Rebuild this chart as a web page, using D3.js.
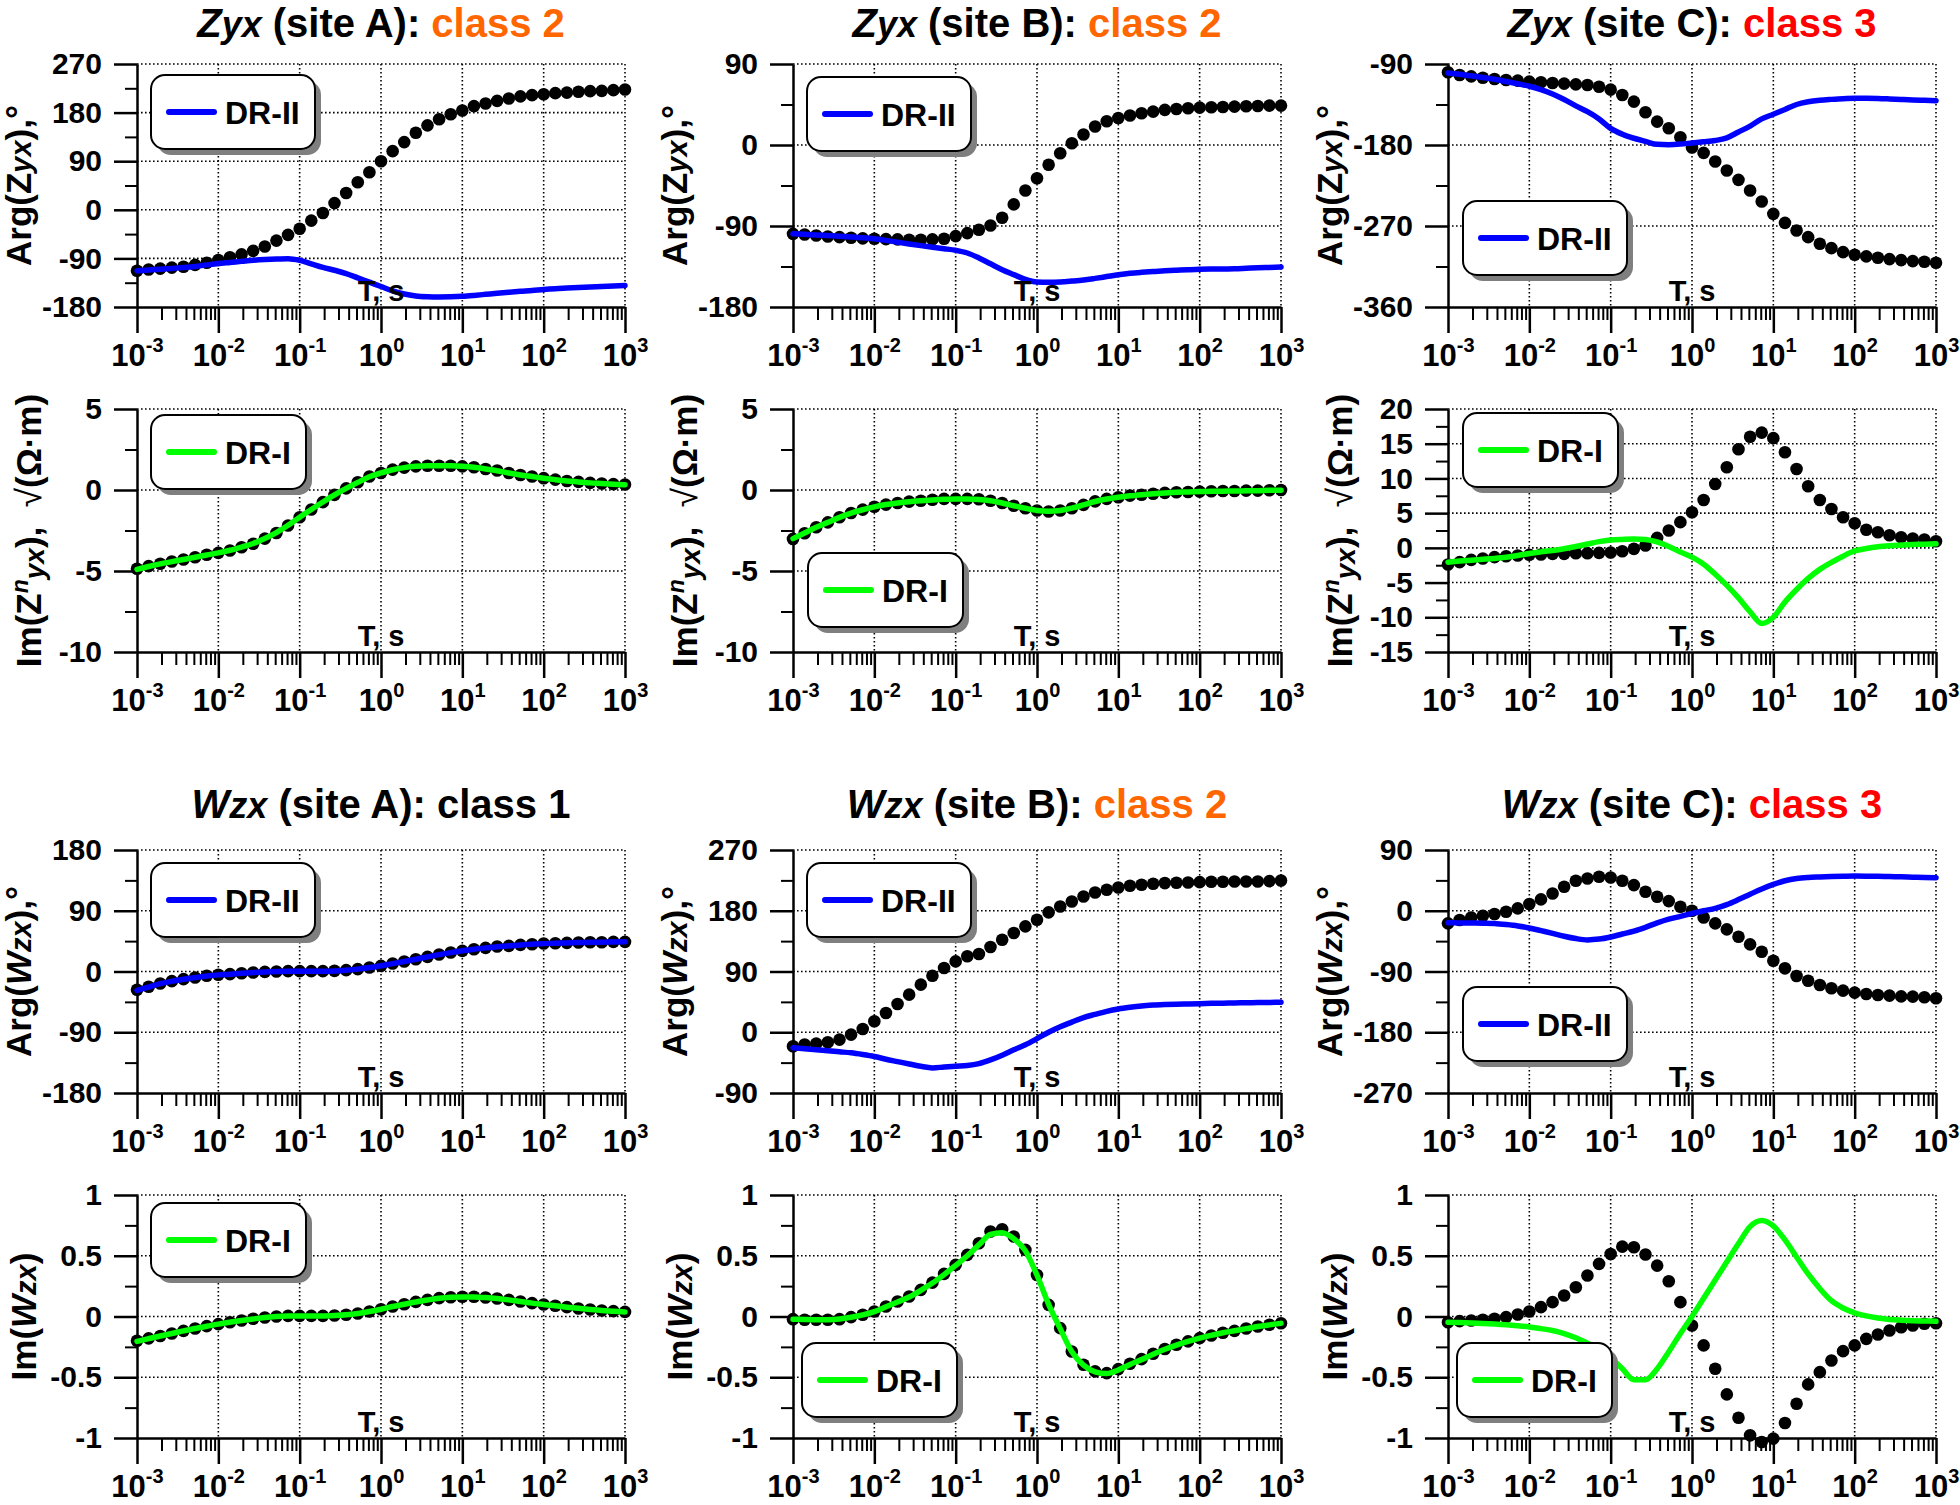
<!DOCTYPE html>
<html><head><meta charset="utf-8">
<script src="https://cdn.jsdelivr.net/npm/d3@7"></script>
<style>
body{margin:0;background:#fff}
svg text{font-family:"Liberation Sans",Arial,sans-serif;font-weight:bold;white-space:pre}
</style>
</head><body>
<svg id="c" width="1960" height="1505"></svg>
<script>
// ---------------- DATA ----------------
const periods = [0.001,0.00139,0.00193,0.00268,0.00373,0.00518,0.0072,0.01,0.0139,0.0193,0.0268,0.0373,0.0518,0.072,
  0.1,0.139,0.193,0.268,0.373,0.518,0.72,1,1.39,1.93,2.68,3.73,5.18,7.2,10,13.9,19.3,26.8,37.3,51.8,72,
  100,139,193,268,373,518,720,1000];
const xExponents = [-3,-2,-1,0,1,2,3];

const zyxA_arg_obs = [-113,-110.5,-109,-107,-105.5,-102,-98,-93,-88,-82.5,-76,-68,-57,-46.5,-35,-20,-6,12.4,31,51,69.5,90,108.6,125.4,142.8,156.4,167.6,177,184,192,196.8,201.7,206,210,212.3,214,216,217,218.5,219.7,220.3,221.6,222.8];
const zyxA_arg_dr2 = [-113,-111.5,-110,-108.5,-107,-105,-102,-99.5,-97.5,-95.5,-93.5,-92,-91,-90.5,-93.5,-100,-106.5,-112,-118,-126,-134,-142,-150,-156,-159.5,-161,-161.5,-161.2,-160.2,-158.5,-156.5,-154.5,-152.7,-151,-149.5,-147.5,-146,-145,-144,-143,-142,-141,-140];
const zyxA_im_obs = [-4.86,-4.7,-4.55,-4.41,-4.29,-4.15,-4.0,-3.88,-3.73,-3.53,-3.32,-3.0,-2.65,-2.19,-1.68,-1.2,-0.75,-0.3,0.1,0.48,0.83,1.05,1.26,1.38,1.46,1.5,1.5,1.5,1.46,1.4,1.3,1.2,1.05,0.93,0.83,0.73,0.64,0.56,0.5,0.44,0.4,0.36,0.34];
const zyxA_im_dr1 = [-4.9,-4.72,-4.56,-4.42,-4.29,-4.15,-4.01,-3.88,-3.72,-3.52,-3.3,-2.99,-2.63,-2.18,-1.68,-1.2,-0.74,-0.3,0.1,0.47,0.82,1.05,1.25,1.38,1.46,1.5,1.5,1.49,1.46,1.4,1.3,1.19,1.05,0.93,0.83,0.73,0.64,0.56,0.5,0.44,0.4,0.36,0.33];

const zyxB_arg_obs = [-98.7,-99.4,-100.5,-101.6,-102.4,-103,-103.8,-104.2,-104.6,-104.9,-105.3,-105.3,-104.9,-104.2,-101.2,-97.9,-94.2,-89.4,-80.9,-66,-50.6,-36.9,-22,-9.1,2,11.6,20.5,26.4,30,32.7,35.2,37.1,39,40,40.8,41.5,41.9,42.3,42.6,43,43.4,43.8,43.8];
const zyxB_arg_dr2 = [-98.7,-99.3,-100,-100.6,-101.3,-102.1,-103,-104.2,-106,-108,-110,-111.8,-113.5,-115.2,-117,-120,-125.5,-132,-138.5,-144,-149.3,-152.2,-152.6,-152.2,-151.2,-150,-148.2,-146.2,-144.2,-142.6,-141.5,-140.6,-139.8,-139.2,-138.6,-138.1,-137.9,-137.9,-137.6,-137,-136.4,-136,-135.6];
const zyxB_im_obs = [-3.02,-2.67,-2.3,-2.0,-1.68,-1.42,-1.21,-1.03,-0.9,-0.8,-0.72,-0.66,-0.6,-0.55,-0.55,-0.55,-0.57,-0.66,-0.8,-0.97,-1.13,-1.27,-1.33,-1.27,-1.13,-0.92,-0.7,-0.55,-0.45,-0.35,-0.29,-0.23,-0.18,-0.14,-0.12,-0.1,-0.08,-0.06,-0.06,-0.04,-0.04,-0.02,0];
const zyxB_im_dr1 = [-3.0,-2.65,-2.3,-2.0,-1.69,-1.43,-1.22,-1.04,-0.9,-0.8,-0.72,-0.66,-0.61,-0.57,-0.55,-0.55,-0.58,-0.66,-0.8,-0.97,-1.13,-1.26,-1.31,-1.26,-1.12,-0.92,-0.71,-0.56,-0.45,-0.36,-0.29,-0.23,-0.18,-0.14,-0.12,-0.1,-0.08,-0.07,-0.06,-0.05,-0.04,-0.02,-0.01];

const zyxC_arg_obs = [-99.2,-102.2,-103.7,-105.2,-106.6,-107.8,-108.5,-109.6,-110.3,-111.1,-111.8,-112.6,-113.3,-115.2,-118.5,-124.4,-131.8,-143.6,-154,-161.4,-171.4,-182.8,-188.8,-198.4,-208.4,-218.7,-230.6,-242.8,-256.5,-266.5,-275,-282.4,-289.8,-294.6,-299,-302,-303.8,-305.3,-306.8,-307.9,-309,-309.7,-310.8];
const zyxC_arg_dr2 = [-100,-101.5,-103.2,-105,-107,-109.5,-112,-114.7,-118.5,-123.3,-129.5,-136.5,-143,-151,-161.5,-168,-172.5,-176,-179.3,-179.6,-179,-177.7,-176.5,-175,-172,-165.5,-159,-151,-145.8,-140.5,-135,-132,-130.3,-129.3,-128.5,-128.1,-128.1,-128.3,-128.8,-129.4,-129.9,-130.3,-130.7];
const zyxC_im_obs = [-2.4,-2.06,-1.73,-1.53,-1.34,-1.2,-1.1,-1.0,-0.96,-0.86,-0.86,-0.77,-0.77,-0.72,-0.67,-0.48,-0.14,0.34,1.44,2.5,3.7,5.13,6.9,9.2,11.6,14.2,16.0,16.6,15.8,13.76,11.36,8.87,6.9,5.6,4.4,3.55,2.6,2.25,1.82,1.53,1.34,1.2,0.96];
const zyxC_im_dr1 = [-2.06,-1.9,-1.77,-1.65,-1.52,-1.35,-1.1,-0.8,-0.58,-0.38,-0.12,0.2,0.55,0.9,1.12,1.22,1.28,1.2,0.85,0.2,-0.6,-1.34,-2.35,-3.8,-5.4,-7.2,-9.2,-10.9,-10.0,-7.8,-6.0,-4.4,-3.1,-2.1,-1.2,-0.45,-0.1,0.15,0.3,0.4,0.48,0.53,0.58];

const wzxA_arg_obs = [-27,-22.7,-17.8,-14.3,-11.3,-8.9,-6.4,-4.9,-3.9,-2.5,-1.5,-0.5,0,0.5,0.5,0.5,0.5,1,2,3.5,5.9,8.4,11.8,14.8,18.2,21.7,25.2,28.1,30.6,33,35,37,38,39.5,40.4,41.4,41.9,42.4,42.9,43.4,43.4,43.9,43.9];
const wzxA_arg_dr2 = [-28,-23,-18,-14.5,-11.5,-9,-6.6,-5,-3.9,-2.6,-1.6,-0.6,0,0.4,0.5,0.5,0.5,0.9,2,3.5,5.8,8.4,11.7,14.8,18.2,21.6,25,28,30.6,33,35,36.8,38,39.4,40.4,41.3,41.9,42.4,42.8,43.2,43.5,43.8,44];
const wzxA_im_obs = [-0.2,-0.18,-0.16,-0.14,-0.118,-0.099,-0.079,-0.063,-0.047,-0.033,-0.019,-0.008,0,0.005,0.005,0.005,0.005,0.008,0.014,0.025,0.041,0.06,0.082,0.101,0.12,0.137,0.151,0.159,0.162,0.162,0.156,0.148,0.137,0.123,0.11,0.099,0.088,0.077,0.066,0.058,0.049,0.044,0.038];
const wzxA_im_dr1 = [-0.205,-0.182,-0.16,-0.14,-0.118,-0.099,-0.08,-0.063,-0.047,-0.033,-0.02,-0.008,0,0.004,0.005,0.005,0.005,0.008,0.014,0.025,0.041,0.06,0.082,0.101,0.12,0.136,0.15,0.158,0.161,0.161,0.156,0.148,0.137,0.123,0.11,0.099,0.088,0.077,0.067,0.058,0.05,0.044,0.038];

const wzxB_arg_obs = [-20.7,-18.2,-16.8,-14.8,-10.9,-3.5,4.9,16.3,28.6,41.9,55.7,70.5,83.8,95.2,105,112.5,115.9,126.3,137.1,147,156.8,166.7,177.6,186.4,193.8,201.2,207.1,211.1,214.5,217,218.5,220,221,221.5,221.9,222.4,222.9,222.9,223.4,223.4,223.4,223.9,224.9];
const wzxB_arg_dr2 = [-23,-24.5,-26,-27.5,-29,-30.5,-33,-36,-40,-43.5,-47,-50.5,-52.8,-51.5,-50.3,-49.3,-46.5,-41,-34,-26,-18.5,-9.5,0,8,15,21.8,26.5,31,34.5,37,39,40.2,41,41.6,42,42.4,42.8,43.1,43.4,43.7,44,44.2,44.4];
const wzxB_im_obs = [-0.022,-0.027,-0.027,-0.027,-0.022,-0.005,0.014,0.041,0.082,0.123,0.164,0.219,0.279,0.351,0.425,0.507,0.603,0.699,0.718,0.658,0.548,0.342,0.096,-0.096,-0.288,-0.397,-0.452,-0.466,-0.433,-0.389,-0.351,-0.307,-0.268,-0.233,-0.205,-0.178,-0.156,-0.134,-0.118,-0.099,-0.082,-0.068,-0.055];
const wzxB_im_dr1 = [-0.022,-0.025,-0.027,-0.026,-0.02,-0.006,0.013,0.04,0.08,0.12,0.16,0.215,0.275,0.345,0.42,0.5,0.59,0.675,0.69,0.64,0.54,0.34,0.1,-0.1,-0.29,-0.4,-0.455,-0.47,-0.44,-0.395,-0.355,-0.31,-0.27,-0.235,-0.205,-0.178,-0.155,-0.134,-0.117,-0.1,-0.083,-0.069,-0.056];

const wzxC_arg_obs = [-18.7,-13.8,-9.9,-7.4,-4.9,-1.5,3.5,9.9,16.8,25.6,35.5,44.4,47.8,50.3,49.3,44.4,38,28.1,20.7,14.3,5.9,0,-9.9,-18.7,-27.6,-38.5,-49.8,-60.7,-74,-85.3,-96.7,-103.6,-110,-114.9,-118.4,-121.3,-123.3,-124.8,-125.8,-126.8,-127.2,-128.2,-129.7];
const wzxC_arg_dr2 = [-17.8,-18,-18.2,-18.5,-19,-20.5,-22.5,-25.5,-29.5,-33.5,-37.8,-41.2,-43.2,-42,-38.8,-34.5,-30.2,-24.5,-18,-12.5,-8.3,-4,0,3.5,9,16.5,24.5,32.3,39,44.5,47.8,49.3,50,50.6,51,51.3,51.2,51,50.6,50.2,49.7,49.2,48.8];
const wzxC_im_obs = [-0.047,-0.038,-0.033,-0.027,-0.019,-0.005,0.016,0.041,0.077,0.118,0.173,0.241,0.337,0.433,0.515,0.575,0.57,0.51,0.419,0.29,0.118,-0.074,-0.238,-0.43,-0.641,-0.833,-0.978,-1.033,-1.005,-0.877,-0.718,-0.559,-0.458,-0.362,-0.285,-0.238,-0.184,-0.148,-0.115,-0.088,-0.074,-0.06,-0.055];
const wzxC_im_dr1 = [-0.047,-0.05,-0.053,-0.057,-0.062,-0.068,-0.076,-0.086,-0.1,-0.115,-0.14,-0.175,-0.22,-0.27,-0.34,-0.43,-0.52,-0.52,-0.43,-0.29,-0.14,0.0,0.15,0.3,0.45,0.6,0.74,0.79,0.745,0.63,0.49,0.35,0.23,0.13,0.07,0.03,0.005,-0.012,-0.024,-0.03,-0.034,-0.037,-0.04];

// y tick values (bottom -> top)
const yTicks_zyxA_arg = [-180,-90,0,90,180,270];
const yTicks_zyxB_arg = [-180,-90,0,90];
const yTicks_zyxC_arg = [-360,-270,-180,-90];
const yTicks_zyxAB_im = [-10,-5,0,5];
const yTicks_zyxC_im = [-15,-10,-5,0,5,10,15,20];
const yTicks_wzxA_arg = [-180,-90,0,90,180];
const yTicks_wzxB_arg = [-90,0,90,180,270];
const yTicks_wzxC_arg = [-270,-180,-90,0,90];
const yTicks_wzx_im = [-1,-0.5,0,0.5,1];

const sites = ['A','B','C'];
const zyxClasses = [2,2,3];
const wzxClasses = [1,2,3];
const legendNames = ['DR-II','DR-I'];

// ---------------- LAYOUT / STYLE ----------------
const classColor = {1:'#000000',2:'#ff6600',3:'#ff0000'};
const fitColor = {'DR-II':'#0000ff','DR-I':'#00ff00'};
const W = 488, H = 243;
const colLeft = [137, 793, 1448];
const rowTop = [64, 409, 850, 1195];
const titleGap = [27, null, 32];

const panels = [
  {row:0,col:0,obs:zyxA_arg_obs,fit:zyxA_arg_dr2,leg:legendNames[0],yt:yTicks_zyxA_arg,lab:'argZ',lp:[14,11]},
  {row:0,col:1,obs:zyxB_arg_obs,fit:zyxB_arg_dr2,leg:legendNames[0],yt:yTicks_zyxB_arg,lab:'argZ',lp:[14,13]},
  {row:0,col:2,obs:zyxC_arg_obs,fit:zyxC_arg_dr2,leg:legendNames[0],yt:yTicks_zyxC_arg,lab:'argZ',lp:[15,137]},
  {row:1,col:0,obs:zyxA_im_obs,fit:zyxA_im_dr1,leg:legendNames[1],yt:yTicks_zyxAB_im,lab:'imZ',lp:[14,6]},
  {row:1,col:1,obs:zyxB_im_obs,fit:zyxB_im_dr1,leg:legendNames[1],yt:yTicks_zyxAB_im,lab:'imZ',lp:[15,144]},
  {row:1,col:2,obs:zyxC_im_obs,fit:zyxC_im_dr1,leg:legendNames[1],yt:yTicks_zyxC_im,lab:'imZ',lp:[15,4]},
  {row:2,col:0,obs:wzxA_arg_obs,fit:wzxA_arg_dr2,leg:legendNames[0],yt:yTicks_wzxA_arg,lab:'argW',lp:[14,13]},
  {row:2,col:1,obs:wzxB_arg_obs,fit:wzxB_arg_dr2,leg:legendNames[0],yt:yTicks_wzxB_arg,lab:'argW',lp:[14,13]},
  {row:2,col:2,obs:wzxC_arg_obs,fit:wzxC_arg_dr2,leg:legendNames[0],yt:yTicks_wzxC_arg,lab:'argW',lp:[15,137]},
  {row:3,col:0,obs:wzxA_im_obs,fit:wzxA_im_dr1,leg:legendNames[1],yt:yTicks_wzx_im,lab:'imW',lp:[14,8]},
  {row:3,col:1,obs:wzxB_im_obs,fit:wzxB_im_dr1,leg:legendNames[1],yt:yTicks_wzx_im,lab:'imW',lp:[9,148]},
  {row:3,col:2,obs:wzxC_im_obs,fit:wzxC_im_dr1,leg:legendNames[1],yt:yTicks_wzx_im,lab:'imW',lp:[9,148]},
];

const yLabels = {
  argZ:{off:106,parts:[{t:'Arg(Z'},{t:'yx',it:1,fs:29},{t:'),°'}]},
  imZ:{off:96,parts:[{t:'Im(Z'},{t:'n',it:1,fs:23,b:-13},{t:'yx',it:1,fs:28,b:3},{t:'),  ',b:0},{t:'√',w:'normal'},{t:'(Ω·m)'}]},
  argW:{off:106,parts:[{t:'Arg('},{t:'W',it:1},{t:'zx',it:1,fs:29},{t:'),°'}]},
  imW:{off:101,parts:[{t:'Im('},{t:'W',it:1},{t:'zx',it:1,fs:29},{t:')'}]},
};

const svg = d3.select('#c');

function addParts(text, parts){
  let prev = 0;
  parts.forEach(p=>{
    const b = p.b||0;
    const ts = text.append('tspan').text(p.t);
    if(b!==prev) ts.attr('dy', b-prev);
    prev = b;
    if(p.it) ts.attr('font-style','italic');
    if(p.fs) ts.attr('font-size', p.fs);
    if(p.w) ts.attr('font-weight', p.w);
    if(p.fill) ts.attr('fill', p.fill);
  });
}

const decades = xExponents.map(e=>Math.pow(10,e));
const minorX = [];
xExponents.slice(0,-1).forEach(e=>{ for(let m=2;m<=9;m++) minorX.push(m*Math.pow(10,e)); });

panels.forEach(p=>{
  const x0 = colLeft[p.col], y0 = rowTop[p.row];
  const g = svg.append('g').attr('transform',`translate(${x0},${y0})`);
  const x = d3.scaleLog().domain([1e-3,1e3]).range([0,W]);
  const y = d3.scaleLinear().domain([p.yt[0], p.yt[p.yt.length-1]]).range([H,0]);

  // grid (dotted)
  const grid = g.append('g').attr('stroke','#000').attr('stroke-width',1.6).attr('stroke-dasharray','1.6,2.4');
  grid.selectAll('.vx').data(decades.slice(1)).join('line')
    .attr('x1',d=>x(d)).attr('x2',d=>x(d)).attr('y1',0).attr('y2',H);
  grid.selectAll('.hy').data(p.yt.slice(1)).join('line')
    .attr('x1',0).attr('x2',W).attr('y1',d=>y(d)).attr('y2',d=>y(d));

  // x axis
  const xm = g.append('g').attr('transform',`translate(0,${H})`)
    .call(d3.axisBottom(x).tickValues(minorX).tickSize(13).tickSizeOuter(0).tickFormat(''));
  xm.select('.domain').remove();
  xm.selectAll('line').attr('stroke-width',2);
  const xa = g.append('g').attr('transform',`translate(0,${H})`)
    .call(d3.axisBottom(x).tickValues(decades).tickSize(26).tickSizeOuter(0).tickFormat(''));
  xa.select('.domain').attr('stroke-width',2.5);
  xa.selectAll('line').attr('stroke-width',2.5);
  xa.selectAll('.tick text').remove();
  xa.selectAll('.tick').data(xExponents).append('text')
    .attr('y',59).attr('fill','#000').attr('font-size',31).attr('text-anchor','middle')
    .each(function(e){
      const t = d3.select(this);
      t.append('tspan').text('10');
      t.append('tspan').text(String(e)).attr('font-size',20).attr('dy',-14);
    });

  // y axis
  const ymid = d3.pairs(p.yt).map(([a,b])=>(a+b)/2);
  const ym = g.append('g').call(d3.axisLeft(y).tickValues(ymid).tickSize(12).tickSizeOuter(0).tickFormat(''));
  ym.select('.domain').remove();
  ym.selectAll('line').attr('stroke-width',2);
  const ya = g.append('g').call(d3.axisLeft(y).tickValues(p.yt).tickSize(23).tickSizeOuter(0).tickPadding(12).tickFormat(d=>String(d)));
  ya.select('.domain').attr('stroke-width',2.5);
  ya.selectAll('line').attr('stroke-width',2.5);
  ya.selectAll('text').attr('font-size',30).attr('fill','#000');
  ya.attr('font-family',null).attr('font-size',null);
  xa.attr('font-family',null).attr('font-size',null);

  // observed dots
  g.append('g').selectAll('circle').data(p.obs).join('circle')
    .attr('cx',(d,i)=>x(periods[i])).attr('cy',d=>y(d)).attr('r',6.3).attr('fill','#000');
  // DR fit line
  const line = d3.line().x((d,i)=>x(periods[i])).y(d=>y(d)).curve(d3.curveMonotoneX);
  g.append('path').datum(p.fit).attr('d',line).attr('fill','none')
    .attr('stroke',fitColor[p.leg]).attr('stroke-width',5.5).attr('stroke-linejoin','round').attr('stroke-linecap','round');

  // "T, s"
  g.append('text').attr('x',W/2).attr('y',H-6).attr('text-anchor','middle').attr('font-size',29).text('T, s');

  // legend
  const lw = p.leg==='DR-II'?164:155, lh = 74;
  const lg = g.append('g').attr('transform',`translate(${p.lp[0]},${p.lp[1]})`);
  lg.append('rect').attr('x',6).attr('y',6).attr('width',lw).attr('height',lh).attr('rx',14).attr('fill','#7f7f7f');
  lg.append('rect').attr('width',lw).attr('height',lh).attr('rx',14).attr('fill','#fff').attr('stroke','#000').attr('stroke-width',2);
  lg.append('line').attr('x1',18).attr('x2',63).attr('y1',lh/2).attr('y2',lh/2)
    .attr('stroke',fitColor[p.leg]).attr('stroke-width',6).attr('stroke-linecap','round');
  lg.append('text').attr('x',74).attr('y',lh/2+12).attr('font-size',32).text(p.leg);

  // y label
  const yl = yLabels[p.lab];
  const t = svg.append('text').attr('font-size',35).attr('text-anchor','middle')
    .attr('transform',`translate(${x0-yl.off},${y0+H/2}) rotate(-90)`);
  addParts(t, yl.parts);
});

// titles
[0,2].forEach((row,ri)=>{
  sites.forEach((s,ci)=>{
    const cls = ri===0 ? zyxClasses[ci] : wzxClasses[ci];
    const t = svg.append('text').attr('font-size',40).attr('text-anchor','middle')
      .attr('x',colLeft[ci]+W/2).attr('y',rowTop[row]-titleGap[row]);
    const parts = ri===0
      ? [{t:'Z',it:1},{t:'yx',it:1,fs:36},{t:` (site ${s}): `},{t:`class ${cls}`,fill:classColor[cls]}]
      : [{t:'W',it:1},{t:'zx',it:1,fs:36},{t:` (site ${s}): `},{t:`class ${cls}`,fill:classColor[cls]}];
    addParts(t, parts);
  });
});
</script>
</body></html>
